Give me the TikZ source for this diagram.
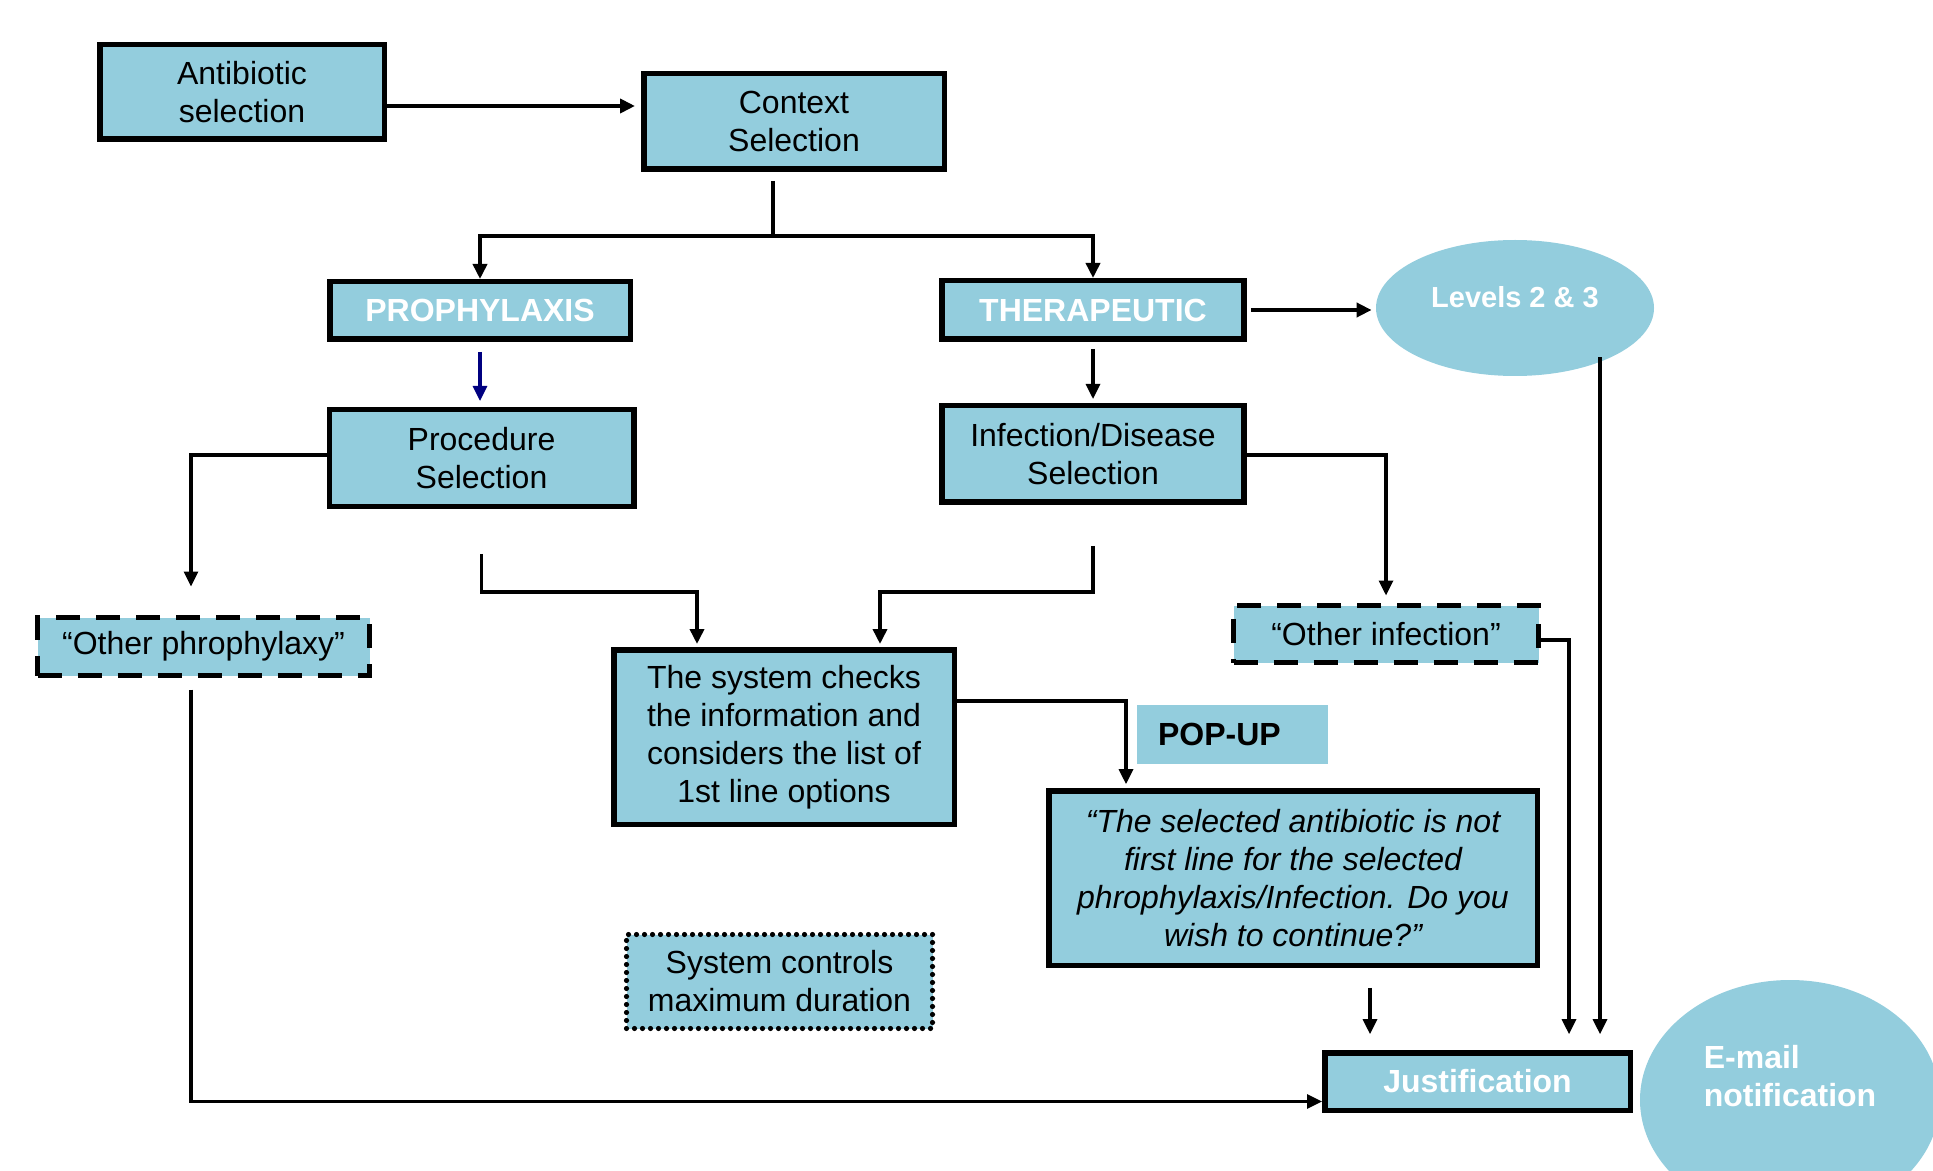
\documentclass[tikz,border=0pt]{standalone}
\usepackage{fontspec}
\setmainfont{Liberation Sans}
\usetikzlibrary{arrows.meta,shapes.geometric}
\definecolor{boxblue}{RGB}{147,205,221}
\definecolor{navyarrow}{RGB}{0,0,128}
\begin{document}
\begin{tikzpicture}[x=0.5pt,y=-0.5pt,
  base/.style={fill=boxblue, align=center, inner sep=0pt, rectangle, font=\fontsize{16pt}{19pt}\selectfont},
  solidbox/.style={base, draw=black, line width=2.75pt},
  dashbox/.style={base, draw=black, line width=2.5pt, dash pattern=on 12pt off 8pt},
  dotbox/.style={base, draw=black, line width=2.6pt, line cap=round, dash pattern=on 0pt off 4pt},
  head/.style={font=\fontsize{16pt}{19pt}\selectfont\bfseries, text=white},
  conn/.style={line width=1.6pt, draw=black},
  arr/.style={conn, -{Triangle[length=7.5pt,width=7pt]}},
]
\useasboundingbox (0,0) rectangle (1933,1171);

% nodes
\node[solidbox, minimum width=142.25pt, minimum height=47.25pt] (ab) at (242,92) {Antibiotic\\selection};
\node[solidbox, minimum width=150.25pt, minimum height=47.75pt] (ctx) at (794,121.5) {Context\\Selection};
\node[solidbox, head, minimum width=150.25pt, minimum height=28.75pt] (pro) at (480,310.5) {PROPHYLAXIS};
\node[solidbox, head, minimum width=151pt, minimum height=29.25pt] (ther) at (1093,310) {THERAPEUTIC};
\node[solidbox, minimum width=152.25pt, minimum height=48.25pt] (proc) at (481.5,458) {Procedure\\Selection};
\node[solidbox, minimum width=151pt, minimum height=48.25pt] (inf) at (1093,454) {Infection/Disease\\Selection};
\node[dashbox, minimum width=166pt, minimum height=29pt] (oph) at (203.5,646.5) {“Other phrophylaxy”};
\node[solidbox, minimum width=170.25pt, minimum height=87.25pt] (sys) at (784,737) {The system checks\\the information and\\considers the list of\\1st line options};
\node[dashbox, minimum width=152.5pt, minimum height=28.5pt] (oinf) at (1386,634) {“Other infection”};
\node[base, font=\fontsize{16pt}{19pt}\selectfont\bfseries, align=left, text width=74.5pt, inner xsep=10.5pt, minimum height=29.5pt] (pop) at (1232.5,734.5) {POP-UP};
\node[solidbox, font=\fontsize{16pt}{19pt}\selectfont\itshape, minimum width=244.25pt, minimum height=87.25pt] (quote) at (1293,878) {“The selected antibiotic is not\\first line for the selected\\phrophylaxis/Infection. Do you\\wish to continue?”};
\node[dotbox, minimum width=153pt, minimum height=47pt] (ctrl) at (779.5,981.5) {System controls\\maximum duration};
\node[solidbox, head, minimum width=152.75pt, minimum height=28.75pt] (just) at (1477.5,1081.5) {Justification};
\node[ellipse, fill=boxblue, minimum width=139pt, minimum height=68pt, inner sep=0pt,
  label={[text=white, font=\fontsize{14.5pt}{17pt}\selectfont\bfseries, yshift=5.5pt]center:Levels 2 \& 3}] (lev) at (1515,308) {};
\node[ellipse, fill=boxblue, minimum width=150pt, minimum height=120pt, inner sep=0pt,
  label={[head, align=left, yshift=12pt]center:E-mail\\notification}] (mail) at (1790,1100) {};

% connectors
\draw[arr, line width=2pt, shorten >=3pt] ([yshift=-7pt]ab.east) -- ([yshift=-7pt]ab.east -| ctx.west);
\coordinate (split) at (773,236);
\draw[conn, line width=1.8pt] ([xshift=-10.5pt,yshift=-4.5pt]ctx.south) -- (split);
\draw[arr, line width=1.8pt] (split) -| (pro.north);
\draw[arr, line width=1.8pt] (split) -| (ther.north);
\draw[arr, line width=2pt, shorten <=2pt, shorten >=2pt] (ther.east) -- (ther.east -| lev.west);
\draw[arr, color=navyarrow, shorten <=5pt, shorten >=3pt] (pro.south) -- (pro.south |- proc.north);
\draw[arr, shorten <=3.5pt, shorten >=2pt] (ther.south) -- (ther.south |- inf.north);
\draw[arr] ([yshift=1.5pt]proc.west) -| ([xshift=-6.25pt,yshift=14.25pt]oph.north);
\draw[arr] ([xshift=-6.25pt,yshift=-5.75pt]oph.south) |- ([yshift=-10pt]just.west);
\draw[arr, line width=1.8pt] ([yshift=-22.4pt]proc.south) -- ++(0,38) -| ([xshift=-43.5pt,yshift=1.5pt]sys.north);
\draw[arr, line width=1.8pt] ([yshift=-20.4pt]inf.south) -- ++(0,46) -| ([xshift=48pt,yshift=1.5pt]sys.north);
\draw[arr] ([yshift=-0.5pt]inf.east) -| ([yshift=3.75pt]oinf.north);
\draw[arr] ([yshift=18pt]sys.east) -| ([xshift=-83.5pt,yshift=1.9pt]quote.north);
\draw[arr] ([xshift=38.5pt,yshift=-9.9pt]quote.south) -- ([xshift=-53.75pt,yshift=7.9pt]just.north);
\draw[arr] ([yshift=-3pt]oinf.east) -| ([xshift=45.75pt,yshift=7.9pt]just.north);
\draw[arr] ([xshift=42.5pt,yshift=9.5pt]lev.south) -- ([xshift=61.25pt,yshift=7.9pt]just.north);
\end{tikzpicture}
\end{document}
